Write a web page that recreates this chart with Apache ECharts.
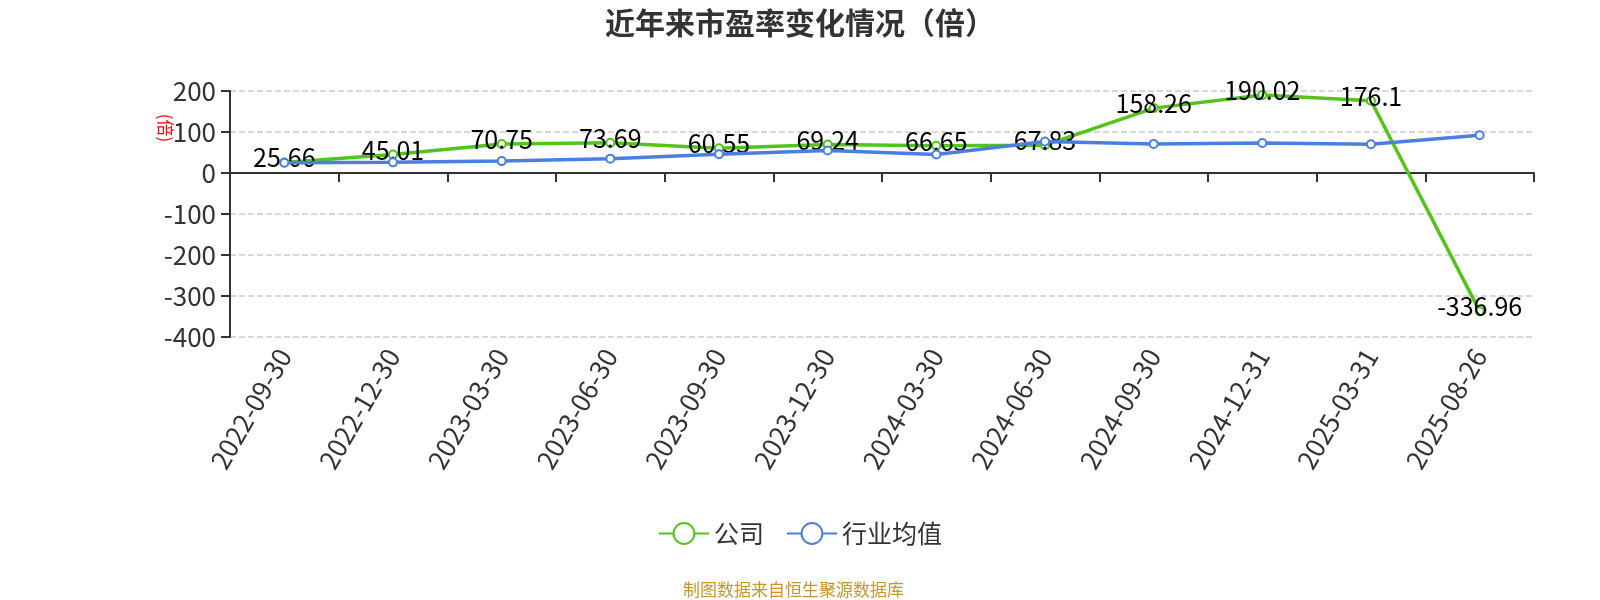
<!DOCTYPE html>
<html lang="zh-CN">
<head>
<meta charset="UTF-8">
<title>近年来市盈率变化情况</title>
<script src="https://cdn.jsdelivr.net/npm/echarts@6/dist/echarts.min.js"></script>
<style>
    html, body { margin: 0; padding: 0; background: #fff; }
    #chart { width: 1600px; height: 600px; }
</style>
</head>
<body>
<div id="chart"></div>
<script>
// 报告期
var dates = ['2022-09-30', '2022-12-30', '2023-03-30', '2023-06-30', '2023-09-30', '2023-12-30',
    '2024-03-30', '2024-06-30', '2024-09-30', '2024-12-31', '2025-03-31', '2025-08-26'];
// 公司市盈率
var company = [25.66, 45.01, 70.75, 73.69, 60.55, 69.24, 66.65, 67.83, 158.26, 190.02, 176.1, -336.96];
// 行业均值（图上估读）
var industry = [25, 26, 29, 35, 46, 55, 45, 77, 71, 73, 70, 92];

var font = 'Noto Sans CJK SC';

var myChart = echarts.init(document.getElementById('chart'));
var option = {
    textStyle: { fontFamily: font },
    title: [{
        text: '近年来市盈率变化情况（倍）',
        left: 'center',
        top: 3,
        textStyle: { fontSize: 30, fontWeight: 'bold', color: '#333', fontFamily: font }
    }, {
        text: '制图数据来自恒生聚源数据库',
        left: 678,
        bottom: -3,
        textStyle: { fontSize: 17, fontWeight: 'normal', color: '#c8952a', fontFamily: font }
    }],
    legend: {
        bottom: 49,
        itemWidth: 50,
        itemHeight: 26,
        itemGap: 22,
        textStyle: { fontSize: 25, color: '#333', fontFamily: font },
        data: ['公司', '行业均值']
    },
    grid: { left: 230, right: 66, top: 91, bottom: 263 },
    graphic: [{
        type: 'text',
        x: 165,
        y: 128,
        rotation: -Math.PI / 2,
        style: {
            text: '(倍)',
            fill: '#f00',
            font: '17px "Noto Sans CJK SC"',
            textAlign: 'center',
            textVerticalAlign: 'middle'
        }
    }],
    xAxis: [{
        type: 'category',
        data: dates,
        position: 'bottom',
        axisLine: { show: false, onZero: false },
        axisTick: { show: false },
        axisLabel: { rotate: 60, fontSize: 26, color: '#333', margin: 14, interval: 0 }
    }, {
        type: 'category',
        data: dates,
        position: 'bottom',
        axisLine: { onZero: true, lineStyle: { color: '#333', width: 2 } },
        axisTick: { show: true, length: 9, lineStyle: { color: '#333', width: 2 } },
        axisLabel: { show: false }
    }],
    yAxis: {
        type: 'value',
        min: -400,
        max: 200,
        interval: 100,
        axisLine: { show: true, lineStyle: { color: '#333', width: 2 } },
        axisTick: { show: true, length: 9, lineStyle: { color: '#333', width: 2 } },
        axisLabel: { fontSize: 26, color: '#333', margin: 14 },
        splitLine: { lineStyle: { type: 'dashed', color: '#ccc', width: 1.5 } }
    },
    series: [{
        name: '公司',
        type: 'line',
        data: company,
        symbol: 'emptyCircle',
        symbolSize: 8,
        lineStyle: { width: 3.5, color: '#52c41a' },
        itemStyle: { color: '#52c41a' },
        label: {
            show: true,
            position: 'top',
            distance: -13,
            fontSize: 25,
            color: '#000',
            fontFamily: font
        },
        z: 3
    }, {
        name: '行业均值',
        type: 'line',
        data: industry,
        symbol: 'emptyCircle',
        symbolSize: 8,
        lineStyle: { width: 3.5, color: '#4a7fe0' },
        itemStyle: { color: '#4a7fe0' },
        z: 4
    }]
};
myChart.setOption(option);
</script>
</body>
</html>
